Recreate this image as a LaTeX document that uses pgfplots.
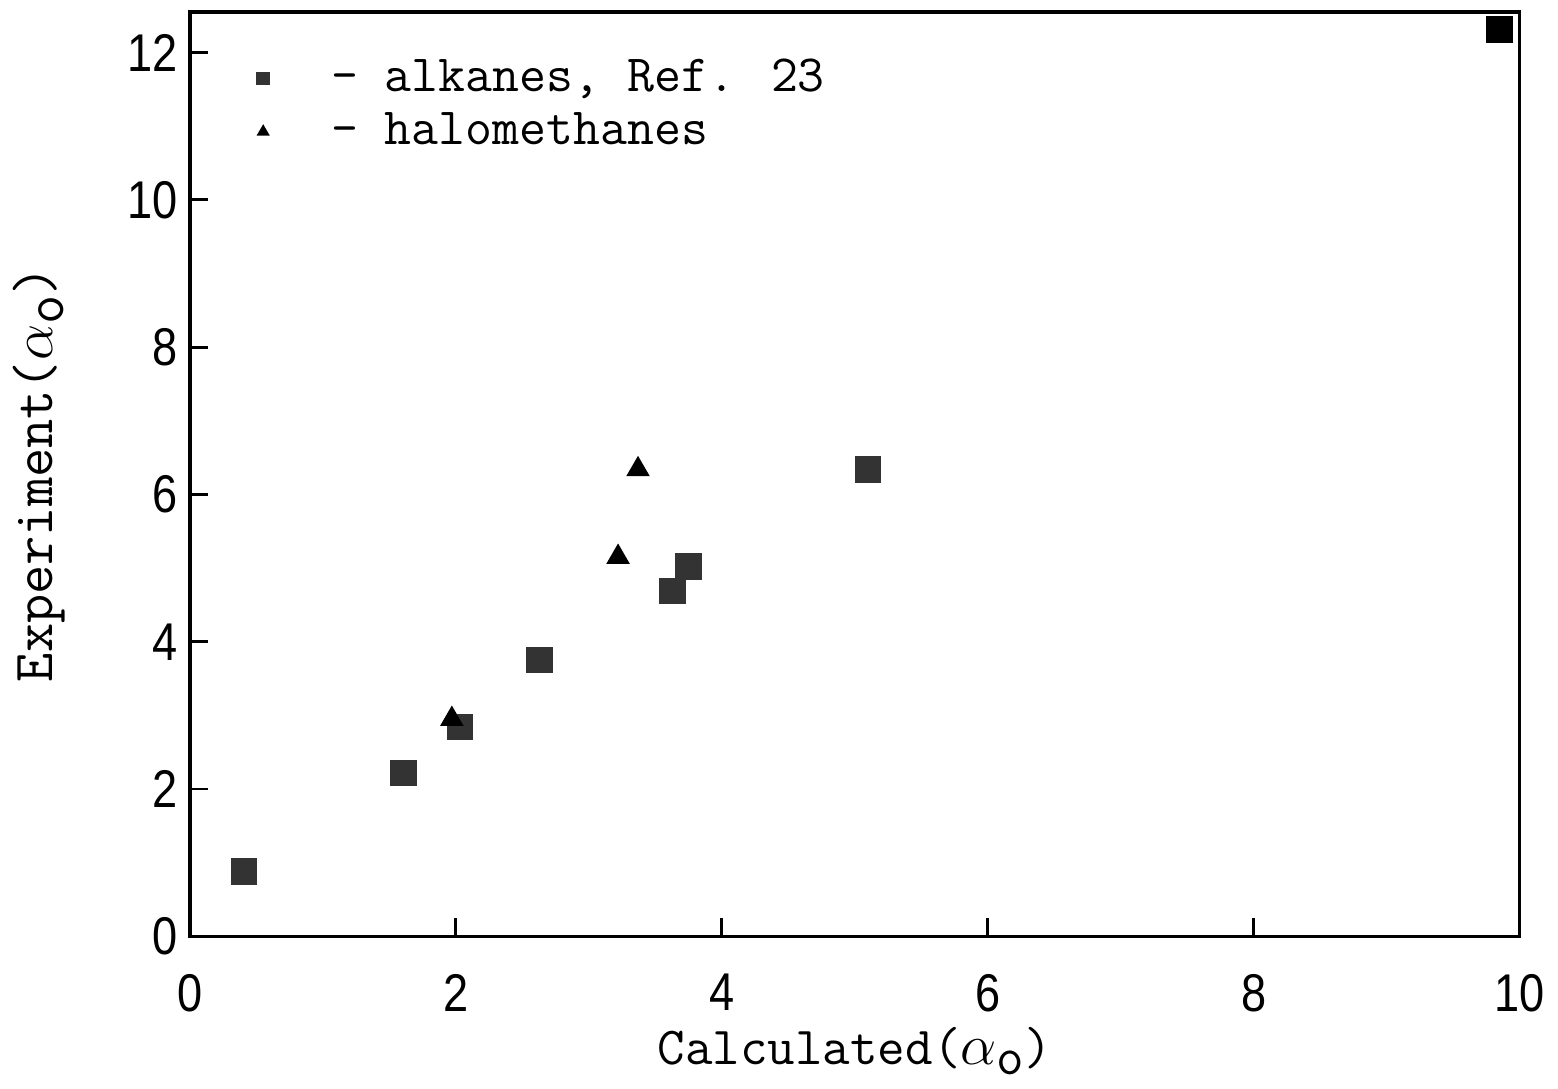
\documentclass[border=0pt]{standalone}
\usepackage{fontspec}
\setsansfont{Liberation Sans}
\usepackage{pgfplots}
\pgfplotsset{compat=1.18}
\begin{document}
\begin{tikzpicture}
\begin{axis}[
  scale only axis,
  width=333pt, height=231.5pt,
  xmin=0, xmax=10, ymin=0, ymax=12.55,
  xtick={0,2,4,6,8,10}, ytick={0,2,4,6,8,10,12},
  tick pos=left, tick align=inside,
  major tick length=4.5pt,
  axis line style={line width=0.9pt},
  every tick/.style={line width=0.7pt, black},
  xticklabel={\scalebox{0.85}[1]{\pgfmathprintnumber[assume math mode=true]{\tick}}},
  yticklabel={\scalebox{0.85}[1]{\pgfmathprintnumber[assume math mode=true]{\tick}}},
  tick label style={font=\sffamily\fontsize{13.3}{15}\selectfont},
  xticklabel style={yshift=-6pt},
  yticklabel style={xshift=0.5pt},
  xlabel={Calculated($\alpha$\raisebox{-0.45ex}{o})},
  ylabel={Experiment($\alpha$\raisebox{-0.45ex}{o})},
  xlabel style={font=\ttfamily\fontsize{13.4}{15}\selectfont, yshift=3pt},
  ylabel style={font=\ttfamily\fontsize{14.2}{15}\selectfont, yshift=8.75pt},
  legend style={draw=none, fill=none, at={(0.041,0.967)}, anchor=north west,
    font=\ttfamily\fontsize{13.1}{14}\selectfont, row sep=-0.25pt,
    /tikz/every even column/.append style={column sep=-3.5pt}},
  legend image code/.code={\draw[#1, mark size=1.5pt] plot coordinates {(0.3cm,0cm)};},
  legend cell align=left,
  clip=false,
]
\addplot[only marks, mark=square*, mark size=3.1pt, black!80, mark options={fill=black!80, draw=black!80}]
  coordinates {(0.405,0.88) (1.607,2.22) (2.03,2.84) (2.63,3.75) (3.63,4.69) (3.75,5.02) (5.10,6.34)};
\addlegendentry{\ \ - alkanes, Ref. 23}
\addplot[only marks, mark=triangle*, mark size=3.0pt, black, mark options={fill=black}]
  coordinates {(1.97,2.95) (3.22,5.15) (3.37,6.34)};
\addlegendentry{\ \ - halomethanes}
\addplot[forget plot, only marks, mark=square*, mark size=3.1pt, black, mark options={fill=black, draw=black}]
  coordinates {(9.85,12.31)};
\path (rel axis cs:0,1) ++(0,3pt) coordinate (topextra);
\useasboundingbox (topextra);
\end{axis}
\end{tikzpicture}
\end{document}
